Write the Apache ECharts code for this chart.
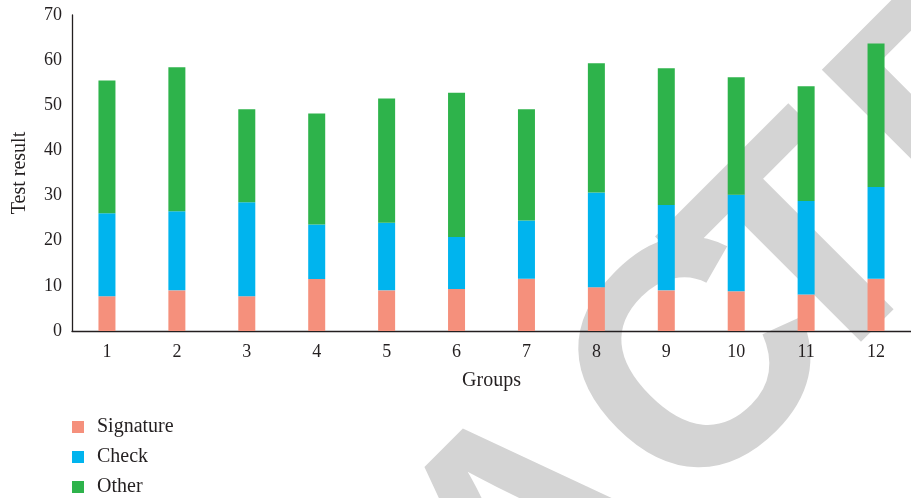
<!DOCTYPE html>
<html>
<head>
<meta charset="utf-8">
<style>
  html, body { margin: 0; padding: 0; background: #ffffff; }
  #chart { width: 911px; height: 498px; }
</style>
<script src="https://cdn.jsdelivr.net/npm/echarts@6/dist/echarts.min.js"></script>
</head>
<body>
<div id="chart"></div>
<script>
// Group labels along the x axis
const groups = ['1', '2', '3', '4', '5', '6', '7', '8', '9', '10', '11', '12'];

// Stacked segment values per group
const signature = [7.7, 9.0, 7.7, 11.5, 9.0, 9.3, 11.6, 9.7, 9.0, 8.8, 8.1, 11.6];
const check     = [18.4, 17.5, 20.8, 12.1, 15.0, 11.5, 12.9, 21.0, 18.9, 21.4, 20.7, 20.3];
const other     = [29.4, 31.9, 20.6, 24.6, 27.5, 32.0, 24.6, 28.6, 30.3, 26.0, 25.4, 31.8];

// Y axis range
const yMin = 0, yMax = 70, yStep = 10;

const seriesNames = ['Signature', 'Check', 'Other'];
const seriesColors = ['#f5907c', '#00b4ee', '#2eb34b'];

const serif = "'Liberation Serif', 'DejaVu Serif', serif";
const axisColor = '#231f20';

// Diagonal stamp: letters laid out along a 45° baseline, each with its
// distance (px) from the stamp's centre letter.
const stampLetters = ['R', 'E', 'T', 'R', 'A', 'C', 'T', 'E', 'D'];
const stampOffsets = [-871, -649, -444, -231, 0, 239, 393, 620, 842];
const stampCenter = [537, 541];
const stampAngle = Math.PI / 4;

function stampElements() {
  const ux = Math.cos(stampAngle), uy = -Math.sin(stampAngle);
  return stampLetters.map(function (ch, i) {
    return {
      type: 'text',
      z: -100,
      silent: true,
      x: stampCenter[0] + stampOffsets[i] * ux,
      y: stampCenter[1] + stampOffsets[i] * uy,
      rotation: stampAngle,
      style: {
        text: ch,
        font: "bold 320px 'Liberation Sans', Arial, sans-serif",
        fill: '#d4d4d4',
        align: 'center',
        verticalAlign: 'middle'
      }
    };
  });
}

const chart = echarts.init(document.getElementById('chart'), null, { renderer: 'canvas' });

function barSeries(name, data, color) {
  return {
    name: name,
    type: 'bar',
    stack: 'total',
    data: data,
    barWidth: 17,
    itemStyle: { color: color },
    emphasis: { disabled: true }
  };
}

chart.setOption({
  animation: false,
  backgroundColor: '#ffffff',
  graphic: { elements: stampElements() },
  legend: {
    orient: 'vertical',
    left: 72,
    top: 417,
    height: 100,
    padding: 0,
    itemWidth: 12,
    itemHeight: 12,
    itemGap: 10,
    icon: 'rect',
    data: seriesNames,
    textStyle: {
      fontFamily: serif,
      fontSize: 20,
      lineHeight: 18,
      color: '#231f20',
      padding: [0, 0, 0, 8]
    }
  },
  grid: {
    left: 72,
    top: 15,
    width: 848.5,
    height: 316,
    containLabel: false
  },
  xAxis: {
    type: 'category',
    data: groups,
    name: 'Groups',
    nameLocation: 'middle',
    nameGap: 40,
    nameTextStyle: { fontFamily: serif, fontSize: 20, color: '#231f20' },
    axisLine: { lineStyle: { color: axisColor, width: 1.3 } },
    axisTick: { show: false },
    axisLabel: { fontFamily: serif, fontSize: 18, color: '#231f20', margin: 12 },
    splitLine: { show: false }
  },
  yAxis: {
    type: 'value',
    min: yMin,
    max: yMax,
    interval: yStep,
    name: 'Test result',
    nameLocation: 'middle',
    nameGap: 42,
    nameTextStyle: { fontFamily: serif, fontSize: 20, color: '#231f20' },
    axisLine: { show: true, lineStyle: { color: axisColor, width: 1.3 } },
    axisTick: { show: false },
    axisLabel: { fontFamily: serif, fontSize: 18, color: '#231f20', margin: 10 },
    splitLine: { show: false }
  },
  series: [
    barSeries(seriesNames[0], signature, seriesColors[0]),
    barSeries(seriesNames[1], check, seriesColors[1]),
    barSeries(seriesNames[2], other, seriesColors[2])
  ]
});
</script>
</body>
</html>
